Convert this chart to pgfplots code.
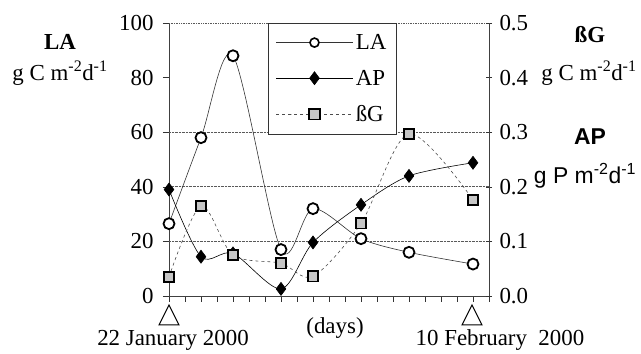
\documentclass[border=0pt]{standalone}
\usepackage{pgfplots}
\pgfplotsset{compat=1.18}
\usepackage{fontspec}
\setmainfont{Liberation Serif}
\setsansfont{Liberation Sans}
\newcommand{\bigf}{\fontsize{23}{27}\selectfont}
\begin{document}
\begin{tikzpicture}
\path (-169bp,-56bp) rectangle (472bp,296bp);
\pgfplotsset{
  every axis/.append style={
    at={(0,0)}, anchor=south west,
    scale only axis, width=320bp, height=273bp,
    xmin=0, xmax=20,
    ticklabel style={font=\bigf},
    /pgf/number format/assume math mode=true,
    axis line style={black!75, line width=0.6pt},
    tick style={black!80, line width=0.5pt},
    major tick length=6bp,
  }
}
\begin{axis}[
  ymin=0, ymax=100,
  axis x line*=bottom, axis y line*=left,
  xtick={0,...,20}, xticklabels={}, tick align=outside,
  ytick={0,20,...,100},
  yticklabel style={xshift=-6bp},
  extra y ticks={20,40,60}, extra y tick labels={},
  extra y tick style={ymajorgrids=true, major tick length=0pt},
  grid style={black!65, densely dotted, line width=0.7pt},
  clip=false,
]
\draw[black!65, densely dotted, line width=0.7pt] (rel axis cs:0,1) -- (rel axis cs:1,1);
\addplot[black!80, line width=0.6pt, smooth, mark=*, mark size=5.5bp,
  mark options={solid, fill=white, draw=black, line width=1.8bp}]
  coordinates {(0,26.5) (2,58) (4,88) (7,17) (9,32) (12,21) (15,16) (19,11.7)};
\end{axis}
\begin{axis}[
  ymin=0, ymax=0.5,
  axis x line=none, axis y line*=right,
  ytick={0,0.1,...,0.5},
  yticklabel style={xshift=4bp, /pgf/number format/.cd, fixed, fixed zerofill, precision=1},
  tick align=center,
  clip=false,
  legend style={at={(0.309,1)}, anchor=north west, draw=black!80, line width=0.6pt,
    font=\bigf, inner xsep=8bp, inner ysep=9bp, row sep=15bp,
    minimum height=0pt},
  legend cell align=left,
  legend image code/.code={\draw[mark repeat=2,mark phase=2,#1] plot coordinates {(0bp,0bp) (38bp,0bp) (77bp,0bp)};},
]
\addlegendimage{black!80, line width=0.6pt, mark=*, mark size=4.5bp,
  mark options={solid, fill=white, draw=black, line width=1.6bp}}
\addlegendentry{LA}
\addplot[black, line width=0.6pt, smooth, mark=diamond*, mark size=6.5bp,
  mark options={solid, fill=black}]
  coordinates {(0,0.195) (2,0.072) (4,0.078) (7,0.013) (9,0.098) (12,0.167) (15,0.22) (19,0.244)};
\addlegendentry{AP}
\addplot[black!70, line width=0.6pt, smooth, dash pattern=on 3bp off 3bp, mark=square*, mark size=5.2bp,
  mark options={solid, fill=gray!45, draw=black, line width=1.8bp}]
  coordinates {(0,0.035) (2,0.165) (4,0.075) (7,0.06) (9,0.036) (12,0.133) (15,0.297) (19,0.176)};
\addlegendentry{ßG}
\end{axis}
% side labels
\node[font=\bigf\bfseries] at (-109bp,254bp) {LA};
\node[font=\bigf] at (-109bp,223bp) {g C m\textsuperscript{-2}d\textsuperscript{-1}};
\node[font=\bigf\bfseries] at (421bp,261bp) {ßG};
\node[font=\bigf] at (420bp,223bp) {g C m\textsuperscript{-2}d\textsuperscript{-1}};
\node[font=\bigf\sffamily\bfseries] at (421bp,159bp) {AP};
\node[font=\bigf\sffamily] at (416bp,120bp) {g P m\textsuperscript{-2}d\textsuperscript{-1}};
% bottom annotations
\draw[black, line width=1pt] (0bp,-9bp) -- (-10bp,-29bp) -- (10bp,-29bp) -- cycle;
\draw[black, line width=1pt] (303bp,-9bp) -- (293bp,-29bp) -- (313bp,-29bp) -- cycle;
\node[font=\bigf] at (4bp,-44bp) {22 January 2000};
\node[font=\bigf] at (166bp,-32bp) {(days)};
\node[font=\bigf] at (331bp,-44bp) {10 February\ \ 2000};
\end{tikzpicture}
\end{document}
